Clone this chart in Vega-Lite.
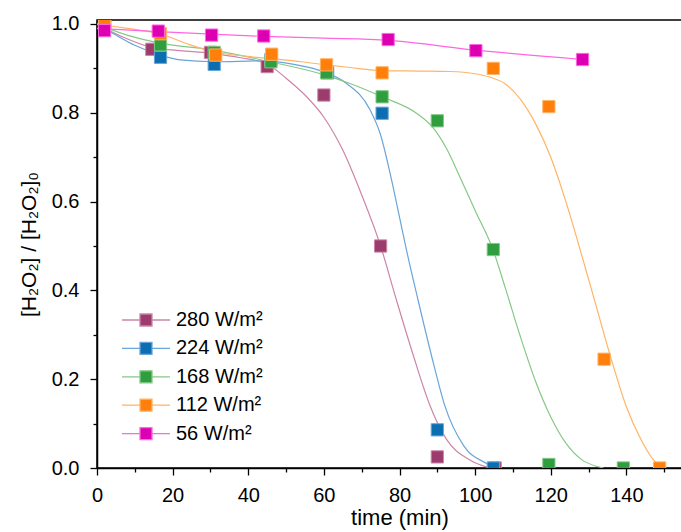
{
  "$schema": "https://vega.github.io/schema/vega-lite/v6.json",
  "width": 605,
  "height": 448,
  "autosize": {"type": "none"},
  "padding": {"left": 97, "top": 20, "right": 0, "bottom": 64},
  "config": {
    "font": "Liberation Sans",
    "view": {"stroke": "black", "strokeWidth": 1.5},
    "axis": {
      "grid": false,
      "domainColor": "black",
      "domainWidth": 1.5,
      "tickColor": "black",
      "tickWidth": 1.3,
      "labelColor": "black",
      "labelFontSize": 20,
      "labelFont": "Liberation Sans",
      "titleFont": "Liberation Sans",
      "titleFontSize": 20,
      "titleFontWeight": "normal",
      "titleColor": "black"
    },
    "legend": {
      "orient": "none",
      "legendX": 39,
      "legendY": 290,
      "title": null,
      "labelFontSize": 20,
      "labelFont": "Liberation Sans",
      "labelColor": "black",
      "symbolSize": 144,
      "symbolStrokeWidth": 1.3,
      "rowPadding": 8.4,
      "labelOffset": 20,
      "padding": 0
    }
  },
  "datasets": {
    "pts": [
      {"series": "280 W/m²", "t": 2, "v": 1.0},
      {"series": "280 W/m²", "t": 14.5, "v": 0.943},
      {"series": "280 W/m²", "t": 30, "v": 0.936},
      {"series": "280 W/m²", "t": 45, "v": 0.904},
      {"series": "280 W/m²", "t": 60, "v": 0.840},
      {"series": "280 W/m²", "t": 75, "v": 0.500},
      {"series": "280 W/m²", "t": 90, "v": 0.025},
      {"series": "280 W/m²", "t": 105.3, "v": 0.0},
      {"series": "224 W/m²", "t": 2, "v": 1.0},
      {"series": "224 W/m²", "t": 16.8, "v": 0.925},
      {"series": "224 W/m²", "t": 31, "v": 0.909},
      {"series": "224 W/m²", "t": 46, "v": 0.92},
      {"series": "224 W/m²", "t": 61, "v": 0.89},
      {"series": "224 W/m²", "t": 75.4, "v": 0.799},
      {"series": "224 W/m²", "t": 90, "v": 0.086},
      {"series": "224 W/m²", "t": 104.8, "v": 0.0},
      {"series": "168 W/m²", "t": 2, "v": 1.0},
      {"series": "168 W/m²", "t": 16.8, "v": 0.953},
      {"series": "168 W/m²", "t": 31, "v": 0.936},
      {"series": "168 W/m²", "t": 46, "v": 0.915},
      {"series": "168 W/m²", "t": 60.7, "v": 0.89},
      {"series": "168 W/m²", "t": 75.4, "v": 0.836},
      {"series": "168 W/m²", "t": 90, "v": 0.782},
      {"series": "168 W/m²", "t": 104.8, "v": 0.492},
      {"series": "168 W/m²", "t": 119.5, "v": 0.008},
      {"series": "168 W/m²", "t": 139.2, "v": 0.0},
      {"series": "112 W/m²", "t": 2, "v": 1.0},
      {"series": "112 W/m²", "t": 16.8, "v": 0.978},
      {"series": "112 W/m²", "t": 31.4, "v": 0.93},
      {"series": "112 W/m²", "t": 46.2, "v": 0.932},
      {"series": "112 W/m²", "t": 60.7, "v": 0.908},
      {"series": "112 W/m²", "t": 75.4, "v": 0.890},
      {"series": "112 W/m²", "t": 104.8, "v": 0.900},
      {"series": "112 W/m²", "t": 119.5, "v": 0.814},
      {"series": "112 W/m²", "t": 134.1, "v": 0.245},
      {"series": "112 W/m²", "t": 148.8, "v": 0.0},
      {"series": "56 W/m²", "t": 2, "v": 0.985},
      {"series": "56 W/m²", "t": 16.2, "v": 0.984},
      {"series": "56 W/m²", "t": 30.3, "v": 0.975},
      {"series": "56 W/m²", "t": 44.1, "v": 0.973},
      {"series": "56 W/m²", "t": 77, "v": 0.965},
      {"series": "56 W/m²", "t": 100.2, "v": 0.940},
      {"series": "56 W/m²", "t": 128.4, "v": 0.920}
    ],
    "crv": [
      {"series": "280 W/m²", "t": 0, "v": 1.0},
      {"series": "280 W/m²", "t": 7, "v": 0.97},
      {"series": "280 W/m²", "t": 14.5, "v": 0.947},
      {"series": "280 W/m²", "t": 22, "v": 0.94},
      {"series": "280 W/m²", "t": 30, "v": 0.934},
      {"series": "280 W/m²", "t": 38, "v": 0.924},
      {"series": "280 W/m²", "t": 45, "v": 0.91},
      {"series": "280 W/m²", "t": 50, "v": 0.878},
      {"series": "280 W/m²", "t": 55, "v": 0.84},
      {"series": "280 W/m²", "t": 60, "v": 0.79},
      {"series": "280 W/m²", "t": 65, "v": 0.716},
      {"series": "280 W/m²", "t": 70, "v": 0.615},
      {"series": "280 W/m²", "t": 75, "v": 0.50},
      {"series": "280 W/m²", "t": 79.2, "v": 0.378},
      {"series": "280 W/m²", "t": 83.6, "v": 0.255},
      {"series": "280 W/m²", "t": 88, "v": 0.142},
      {"series": "280 W/m²", "t": 92.4, "v": 0.065},
      {"series": "280 W/m²", "t": 98.6, "v": 0.018},
      {"series": "280 W/m²", "t": 104, "v": 0.0},
      {"series": "224 W/m²", "t": 0, "v": 1.0},
      {"series": "224 W/m²", "t": 5, "v": 0.975},
      {"series": "224 W/m²", "t": 10, "v": 0.952},
      {"series": "224 W/m²", "t": 16.7, "v": 0.930},
      {"series": "224 W/m²", "t": 22, "v": 0.919},
      {"series": "224 W/m²", "t": 30.8, "v": 0.915},
      {"series": "224 W/m²", "t": 44, "v": 0.917},
      {"series": "224 W/m²", "t": 52.8, "v": 0.908},
      {"series": "224 W/m²", "t": 59.8, "v": 0.893},
      {"series": "224 W/m²", "t": 66, "v": 0.866},
      {"series": "224 W/m²", "t": 72, "v": 0.81},
      {"series": "224 W/m²", "t": 75, "v": 0.75},
      {"series": "224 W/m²", "t": 78, "v": 0.645},
      {"series": "224 W/m²", "t": 80, "v": 0.565},
      {"series": "224 W/m²", "t": 82, "v": 0.485},
      {"series": "224 W/m²", "t": 85, "v": 0.375},
      {"series": "224 W/m²", "t": 89, "v": 0.235},
      {"series": "224 W/m²", "t": 92, "v": 0.14},
      {"series": "224 W/m²", "t": 97, "v": 0.05},
      {"series": "224 W/m²", "t": 103, "v": 0.01},
      {"series": "224 W/m²", "t": 105, "v": 0.0},
      {"series": "168 W/m²", "t": 0, "v": 1.0},
      {"series": "168 W/m²", "t": 8, "v": 0.975},
      {"series": "168 W/m²", "t": 16.7, "v": 0.957},
      {"series": "168 W/m²", "t": 30.8, "v": 0.941},
      {"series": "168 W/m²", "t": 45.7, "v": 0.915},
      {"series": "168 W/m²", "t": 60.3, "v": 0.885},
      {"series": "168 W/m²", "t": 66.9, "v": 0.866},
      {"series": "168 W/m²", "t": 75.4, "v": 0.836},
      {"series": "168 W/m²", "t": 84.5, "v": 0.799},
      {"series": "168 W/m²", "t": 88.9, "v": 0.766},
      {"series": "168 W/m²", "t": 92.4, "v": 0.72},
      {"series": "168 W/m²", "t": 96, "v": 0.655},
      {"series": "168 W/m²", "t": 100, "v": 0.58},
      {"series": "168 W/m²", "t": 104.8, "v": 0.49},
      {"series": "168 W/m²", "t": 108, "v": 0.405},
      {"series": "168 W/m²", "t": 112, "v": 0.295},
      {"series": "168 W/m²", "t": 116, "v": 0.195},
      {"series": "168 W/m²", "t": 120, "v": 0.115},
      {"series": "168 W/m²", "t": 124, "v": 0.056},
      {"series": "168 W/m²", "t": 128, "v": 0.02},
      {"series": "168 W/m²", "t": 132, "v": 0.004},
      {"series": "168 W/m²", "t": 134, "v": 0.0},
      {"series": "112 W/m²", "t": 0, "v": 1.0},
      {"series": "112 W/m²", "t": 8, "v": 0.99},
      {"series": "112 W/m²", "t": 16.7, "v": 0.978},
      {"series": "112 W/m²", "t": 24, "v": 0.955},
      {"series": "112 W/m²", "t": 31, "v": 0.937},
      {"series": "112 W/m²", "t": 40, "v": 0.927},
      {"series": "112 W/m²", "t": 47, "v": 0.921},
      {"series": "112 W/m²", "t": 54, "v": 0.915},
      {"series": "112 W/m²", "t": 60.7, "v": 0.908},
      {"series": "112 W/m²", "t": 66.9, "v": 0.902},
      {"series": "112 W/m²", "t": 75.4, "v": 0.895},
      {"series": "112 W/m²", "t": 85, "v": 0.894},
      {"series": "112 W/m²", "t": 93.3, "v": 0.893},
      {"series": "112 W/m²", "t": 100, "v": 0.888},
      {"series": "112 W/m²", "t": 104, "v": 0.88},
      {"series": "112 W/m²", "t": 108, "v": 0.865},
      {"series": "112 W/m²", "t": 112, "v": 0.83},
      {"series": "112 W/m²", "t": 116, "v": 0.775},
      {"series": "112 W/m²", "t": 120, "v": 0.70},
      {"series": "112 W/m²", "t": 124, "v": 0.60},
      {"series": "112 W/m²", "t": 128, "v": 0.485},
      {"series": "112 W/m²", "t": 132, "v": 0.365},
      {"series": "112 W/m²", "t": 136, "v": 0.245},
      {"series": "112 W/m²", "t": 140, "v": 0.138},
      {"series": "112 W/m²", "t": 144, "v": 0.062},
      {"series": "112 W/m²", "t": 147, "v": 0.02},
      {"series": "112 W/m²", "t": 149.5, "v": 0.0},
      {"series": "56 W/m²", "t": 0, "v": 0.99},
      {"series": "56 W/m²", "t": 16.2, "v": 0.983},
      {"series": "56 W/m²", "t": 30.3, "v": 0.977},
      {"series": "56 W/m²", "t": 44.1, "v": 0.972},
      {"series": "56 W/m²", "t": 60, "v": 0.968},
      {"series": "56 W/m²", "t": 77, "v": 0.963},
      {"series": "56 W/m²", "t": 100.2, "v": 0.941},
      {"series": "56 W/m²", "t": 128.4, "v": 0.92}
    ]
  },
  "encoding": {
    "x": {
      "field": "t",
      "type": "quantitative",
      "scale": {"domain": [0, 160], "nice": false, "zero": false},
      "axis": {
        "title": "time (min)",
        "titleFontSize": 22,
        "values": [0, 10, 20, 30, 40, 50, 60, 70, 80, 90, 100, 110, 120, 130, 140, 150],
        "labelExpr": "datum.value % 20 === 0 ? datum.label : ''",
        "tickSize": {"condition": {"test": "datum.value % 20 === 0", "value": 7}, "value": 4},
        "labelPadding": 10,
        "titlePadding": 2,
        "labelFlush": false,
        "labelOverlap": false
      }
    },
    "y": {
      "field": "v",
      "type": "quantitative",
      "scale": {"domain": [0, 1.009], "nice": false, "zero": false},
      "axis": {
        "title": "[H₂O₂] / [H₂O₂]₀",
        "titleFontSize": 21,
        "values": [0, 0.1, 0.2, 0.3, 0.4, 0.5, 0.6, 0.7, 0.8, 0.9, 1.0],
        "labelExpr": "round(datum.value * 10) % 2 === 0 ? format(datum.value, '.1f') : ''",
        "tickSize": {"condition": {"test": "round(datum.value * 10) % 2 === 0", "value": 7}, "value": 4},
        "labelPadding": 11,
        "titlePadding": 12,
        "labelFlush": false,
        "labelOverlap": false
      }
    }
  },
  "layer": [
    {
      "data": {"name": "crv"},
      "mark": {"type": "line", "interpolate": "monotone", "strokeWidth": 1.2, "clip": true},
      "encoding": {
        "stroke": {
          "field": "series",
          "type": "nominal",
          "sort": null,
          "scale": {
            "domain": ["280 W/m²", "224 W/m²", "168 W/m²", "112 W/m²", "56 W/m²"],
            "range": ["#CC85A8", "#6AA5DA", "#86C886", "#FFB466", "#FF66E0"]
          },
          "legend": {"symbolType": "M-4,0L-1,0M1,0L4,0M-1,-1L1,-1L1,1L-1,1Z"}
        }
      }
    },
    {
      "data": {"name": "pts"},
      "mark": {"type": "point", "shape": "square", "filled": true, "opacity": 1, "size": 150, "strokeWidth": 1, "clip": true},
      "encoding": {
        "fill": {
          "field": "series",
          "type": "nominal",
          "sort": null,
          "scale": {
            "domain": ["280 W/m²", "224 W/m²", "168 W/m²", "112 W/m²", "56 W/m²"],
            "range": ["#9C3C6C", "#0B6EB1", "#2E9E3F", "#FF7F0A", "#DD00B3"]
          },
          "legend": {"symbolType": "M-4,0L-1,0M1,0L4,0M-1,-1L1,-1L1,1L-1,1Z"}
        },
        "stroke": {
          "field": "series",
          "type": "nominal",
          "sort": null,
          "legend": {"symbolType": "M-4,0L-1,0M1,0L4,0M-1,-1L1,-1L1,1L-1,1Z"}
        }
      }
    }
  ]
}
